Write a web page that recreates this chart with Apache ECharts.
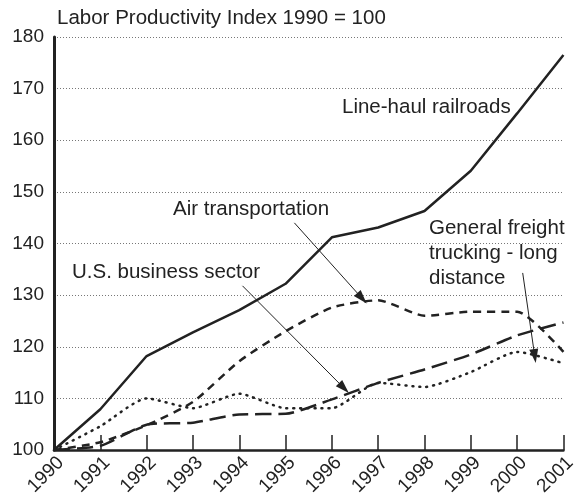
<!DOCTYPE html>
<html>
<head>
<meta charset="utf-8">
<script src="https://cdn.jsdelivr.net/npm/echarts@6/dist/echarts.min.js"></script>
<style>
html, body { margin: 0; padding: 0; background: #fff; }
#chart { width: 579px; height: 501px; }
</style>
</head>
<body>
<div id="chart"></div>
<script>
var years = [1990, 1991, 1992, 1993, 1994, 1995, 1996, 1997, 1998, 1999, 2000, 2001];
var railroads = [100, 107.9, 118.2, 122.8, 127.1, 132.2, 141.2, 143.1, 146.3, 154.1, 165.2, 176.5];
var airTransport = [100, 101.5, 104.8, 109.3, 117.2, 123.0, 127.6, 129.0, 126.0, 126.8, 126.8, 119.0];
var businessSector = [100, 100.8, 104.9, 105.3, 106.9, 107.0, 109.8, 113.0, 115.6, 118.5, 122.2, 124.7];
var freightTrucking = [100, 104.6, 110.0, 108.1, 110.9, 108.1, 108.1, 113.0, 112.2, 115.1, 119.0, 116.8];

var fontFam = '"Liberation Sans", Arial, sans-serif';
var ink = '#222';

function pairs(vals) {
    var arr = [];
    for (var i = 0; i < years.length; i++) {
        arr.push([years[i], vals[i]]);
    }
    return arr;
}

function arrow(from, to) {
    return [
        {coord: from, symbol: 'none'},
        {coord: to, symbol: 'triangle', symbolSize: [9, 14]}
    ];
}

var chart = echarts.init(document.getElementById('chart'));
var option = {
    animation: false,
    backgroundColor: '#fff',
    textStyle: {fontFamily: fontFam},
    grid: {left: 54, right: 14, top: 37, bottom: 51},
    title: {
        text: 'Labor Productivity Index 1990 = 100',
        left: 52,
        top: 3,
        textStyle: {fontFamily: fontFam, fontSize: 20.5, fontWeight: 'normal', color: ink}
    },
    graphic: [
        {type: 'text', left: 342, top: 97, style: {text: 'Line-haul railroads', font: '20.5px ' + fontFam, fill: ink}},
        {type: 'text', left: 173, top: 199, style: {text: 'Air transportation', font: '20.5px ' + fontFam, fill: ink}},
        {type: 'text', left: 72, top: 262, style: {text: 'U.S. business sector', font: '20.5px ' + fontFam, fill: ink}},
        {type: 'text', left: 429, top: 216, style: {text: 'General freight\ntrucking - long\ndistance', font: '20.5px ' + fontFam, fill: ink, lineHeight: 25}}
    ],
    xAxis: {
        type: 'value',
        min: 1990,
        max: 2001,
        interval: 1,
        axisLine: {lineStyle: {color: ink, width: 2.5}},
        axisTick: {inside: true, length: 15, lineStyle: {color: ink, width: 1.5}},
        splitLine: {show: false},
        axisLabel: {
            rotate: 45,
            fontSize: 19,
            color: ink,
            margin: 3,
            verticalAlign: 'top',
            formatter: function (v) { return String(v); }
        }
    },
    yAxis: {
        type: 'value',
        min: 100,
        max: 180,
        interval: 10,
        axisLine: {show: true, lineStyle: {color: ink, width: 3}},
        axisTick: {show: false},
        axisLabel: {fontSize: 19, color: ink, margin: 10},
        splitLine: {lineStyle: {color: '#777', type: [1, 2], width: 1}}
    },
    series: [
        {
            name: 'Line-haul railroads',
            type: 'line',
            data: pairs(railroads),
            showSymbol: false,
            lineStyle: {color: ink, width: 2.5},
            markLine: {silent: true, label: {show: false},
                lineStyle: {color: ink, width: 1, type: 'solid'},
                data: [
                    arrow([1995.19, 144.0], [1996.65, 129.4]),
                    arrow([1994.07, 131.8], [1996.26, 112.0]),
                    arrow([2000.12, 134.3], [2000.38, 118.2])
                ]}
        },
        {
            name: 'Air transportation',
            type: 'line',
            data: pairs(airTransport),
            showSymbol: false,
            smooth: 0.2,
            lineStyle: {color: ink, width: 2.5, type: [8, 6]}
        },
        {
            name: 'U.S. business sector',
            type: 'line',
            data: pairs(businessSector),
            showSymbol: false,
            smooth: 0.2,
            lineStyle: {color: ink, width: 2.5, type: [16, 7]}
        },
        {
            name: 'General freight trucking - long distance',
            type: 'line',
            data: pairs(freightTrucking),
            showSymbol: false,
            smooth: 0.2,
            lineStyle: {color: ink, width: 2.5, type: [1, 6], cap: 'round'}
        }
    ]
};
chart.setOption(option);
</script>
</body>
</html>
